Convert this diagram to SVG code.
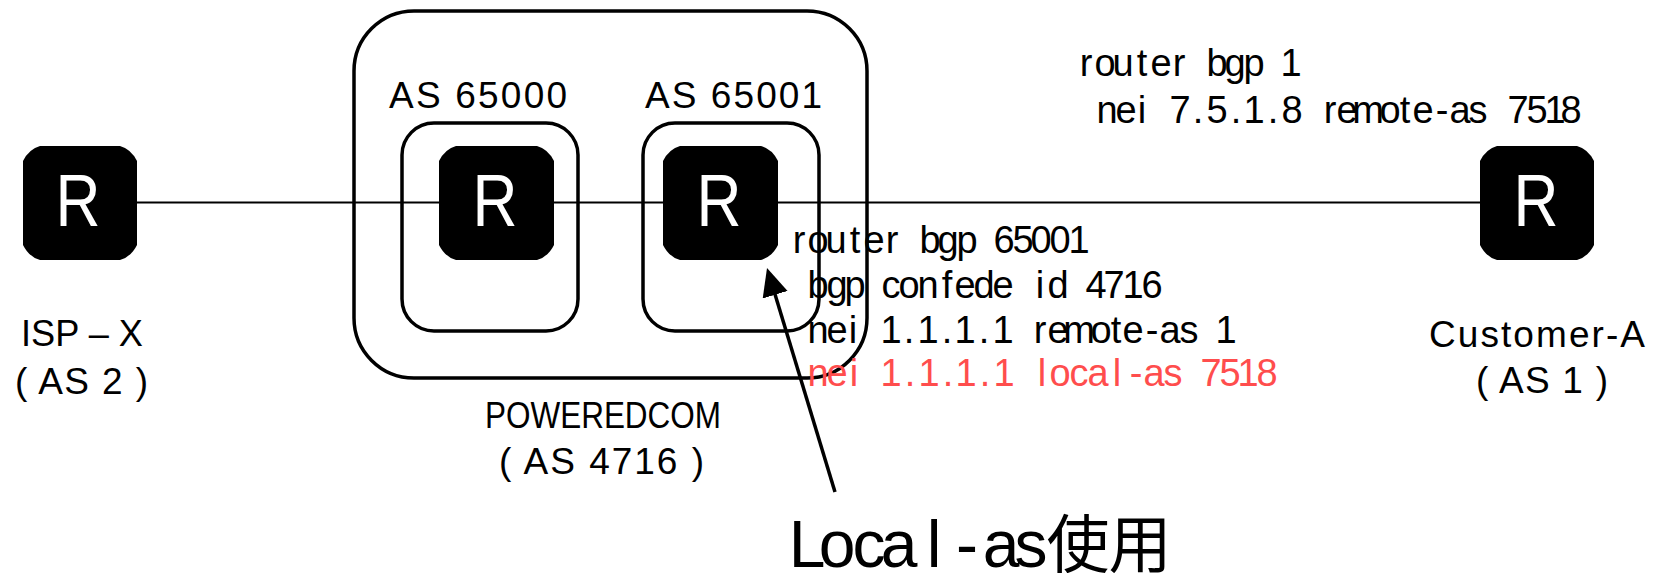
<svg xmlns="http://www.w3.org/2000/svg" width="1657" height="573" viewBox="0 0 1657 573">
<style>
text{font-family:"Liberation Sans","Noto Sans CJK JP",sans-serif;fill:#000}
.box{fill:none;stroke:#000;stroke-width:3.5}
.r{fill:#fff;font-size:74px;text-anchor:middle}
.router{fill:#000}
.label{font-size:37px}
.cfg,.big{font-family:"Liberation Sans Narrow","Liberation Sans","Noto Sans CJK JP",sans-serif;text-anchor:middle}
.cfg{font-size:38px}
.big{font-size:66px}
.cjk{font-size:63px}
.red{fill:#ff4d4d}
</style>
<defs><marker id="ah" markerUnits="userSpaceOnUse" markerWidth="30" markerHeight="30" refX="6" refY="13" orient="auto"><path d="M0 0L28 13L0 26Z" fill="#000"/></marker></defs>
<rect width="1657" height="573" fill="#fff"/>
<g id="connectors"><path d="M137 202.5H1480" stroke="#000" stroke-width="2" fill="none"/>
<path d="M835 492L773.4 289" stroke="#000" stroke-width="3.5" fill="none" marker-end="url(#ah)"/></g>
<g id="poweredcom"><rect class="box" x="354" y="11" width="513" height="367" rx="60"/></g>
<g id="as65000"><rect class="box" x="402" y="123" width="176" height="208" rx="32"/></g>
<g id="as65001"><rect class="box" x="643" y="123" width="176" height="208" rx="32"/></g>
<g id="r1"><path class="router" d="M40 146H120Q131 149 137 161V245Q131 257 120 260H40Q29 257 23 245V161Q29 149 40 146Z"/><text class="r" x="78" y="226" textLength="45" lengthAdjust="spacingAndGlyphs">R</text></g>
<g id="r2"><path class="router" d="M456 146H537Q548 149 554 161V245Q548 257 537 260H456Q445 257 439 245V161Q445 149 456 146Z"/><text class="r" x="495" y="226" textLength="45" lengthAdjust="spacingAndGlyphs">R</text></g>
<g id="r3"><path class="router" d="M680 146H761Q772 149 778 161V245Q772 257 761 260H680Q669 257 663 245V161Q669 149 680 146Z"/><text class="r" x="719" y="226" textLength="45" lengthAdjust="spacingAndGlyphs">R</text></g>
<g id="r4"><path class="router" d="M1497 146H1577Q1588 149 1594 161V245Q1588 257 1577 260H1497Q1486 257 1480 245V161Q1486 149 1497 146Z"/><text class="r" x="1536" y="226" textLength="45" lengthAdjust="spacingAndGlyphs">R</text></g>
<text class="label" x="389" y="108" textLength="178">AS 65000</text>
<text class="label" x="645" y="108" textLength="177">AS 65001</text>
<text class="label" x="21" y="346" textLength="122" lengthAdjust="spacingAndGlyphs">ISP – X</text>
<text class="label" x="15" y="394" textLength="133">( AS 2 )</text>
<text class="label" x="485" y="428" textLength="236" lengthAdjust="spacingAndGlyphs">POWEREDCOM</text>
<text class="label" x="499" y="474" textLength="205">( AS 4716 )</text>
<text class="label" x="1429" y="347" textLength="216">Customer-A</text>
<text class="label" x="1476" y="393" textLength="132">( AS 1 )</text>
<text class="cfg" y="76" x="1086 1105 1123 1142 1161 1179 1198 1217 1235 1254 1273 1291">router bgp 1</text>
<text class="cfg" y="123" x="1107 1126 1142 1161 1180 1198 1217 1236 1254 1273 1292 1310 1330 1347 1368 1390 1405 1423 1442 1460 1478 1497 1518 1537 1555 1571">nei 7.5.1.8 remote-as 7518</text>
<text class="cfg" y="253" x="799 818 836 855 874 892 911 930 948 967 986 1004 1023 1041 1060 1079">router bgp 65001</text>
<text class="cfg" y="298" x="818 837 855 872 891 909 928 947 965 984 1003 1021 1040 1058 1077 1096 1114 1133 1152">bgp confede id 4716</text>
<text class="cfg" y="343" x="818 837 853 872 891 909 928 947 965 984 1003 1021 1040 1058 1079 1101 1116 1133 1152 1170 1189 1208 1226">nei 1.1.1.1 remote-as 1</text>
<text class="cfg red" y="386" x="818 837 854 872 891 910 929 948 966 985 1004 1023 1042 1060 1079 1098 1117 1136 1154 1173 1192 1211 1230 1248 1267">nei 1.1.1.1 local-as 7518</text>
<text class="big" y="567" x="807 837 869 899 934 967 1001 1031">Local-as<tspan class="cjk" x="1078 1140">使用</tspan></text>
</svg>
